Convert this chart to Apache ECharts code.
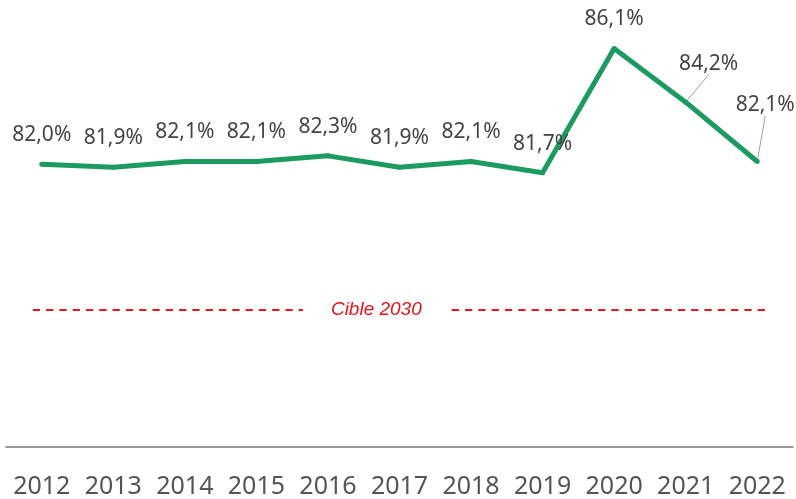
<!DOCTYPE html>
<html>
<head>
<meta charset="utf-8">
<script src="https://cdn.jsdelivr.net/npm/echarts@6/dist/echarts.min.js"></script>
<style>
  html, body { margin: 0; padding: 0; background: #fff; }
  #chart { width: 796px; height: 499px; }
</style>
</head>
<body>
<div id="chart"></div>
<script>
const years = ['2012', '2013', '2014', '2015', '2016', '2017', '2018', '2019', '2020', '2021', '2022'];
const values = [82.0, 81.9, 82.1, 82.1, 82.3, 81.9, 82.1, 81.7, 86.1, 84.2, 82.1];
const cible = 76.85;
const cibleLabel = 'Cible 2030';
// dashed target line, split around its label (x in category index units)
const cibleLeft = [[-0.126, cible], [3.65, cible]];
const cibleRight = [[5.73, cible], [10.15, cible]];

const chart = echarts.init(document.getElementById('chart'));

// labels moved aside with a leader line
const moved = { 9: { dx: 23, dy: -9 }, 10: { dx: 8, dy: -27 } };

const lineData = values.map((v, i) => moved[i]
  ? { value: v, labelLine: { show: true } }
  : v);

const targetStyle = { color: '#f0141e', type: [7.3, 6], width: 2 };

const option = {
  animation: false,
  grid: { left: 6, right: 3, top: 23, bottom: 52 },
  xAxis: [{
    type: 'category',
    data: years,
    axisLine: { lineStyle: { color: '#777', width: 1.5 } },
    axisTick: { show: false },
    axisLabel: {
      interval: 0,
      color: '#555',
      fontSize: 25,
      fontFamily: 'Noto Sans',
      margin: 27
    }
  }, {
    type: 'value',
    min: -0.5,
    max: 10.5,
    show: false
  }],
  yAxis: {
    type: 'value',
    min: 72,
    max: 87,
    show: false,
    splitLine: { show: false }
  },
  series: [{
    type: 'line',
    data: lineData,
    symbol: 'circle',
    symbolSize: 5,
    itemStyle: { color: '#1b9b5f' },
    lineStyle: { color: '#1b9b5f', width: 5 },
    label: {
      show: true,
      position: 'top',
      distance: 16,
      color: '#444',
      fontSize: 21,
      fontFamily: 'Noto Sans',
      formatter: p => p.value.toFixed(1).replace('.', ',') + '%'
    },
    labelLine: { show: false, lineStyle: { color: '#a0a0a0', width: 1 } },
    labelLayout: p => moved[p.dataIndex] || {}
  }, {
    type: 'line',
    xAxisIndex: 1,
    data: cibleLeft,
    symbol: 'none',
    silent: true,
    lineStyle: targetStyle,
    endLabel: {
      show: true,
      distance: 28,
      formatter: cibleLabel,
      color: '#e8141c',
      fontSize: 19,
      fontStyle: 'italic',
      fontFamily: 'Liberation Sans'
    }
  }, {
    type: 'line',
    xAxisIndex: 1,
    data: cibleRight,
    symbol: 'none',
    silent: true,
    lineStyle: targetStyle
  }]
};

chart.setOption(option);
</script>
</body>
</html>
